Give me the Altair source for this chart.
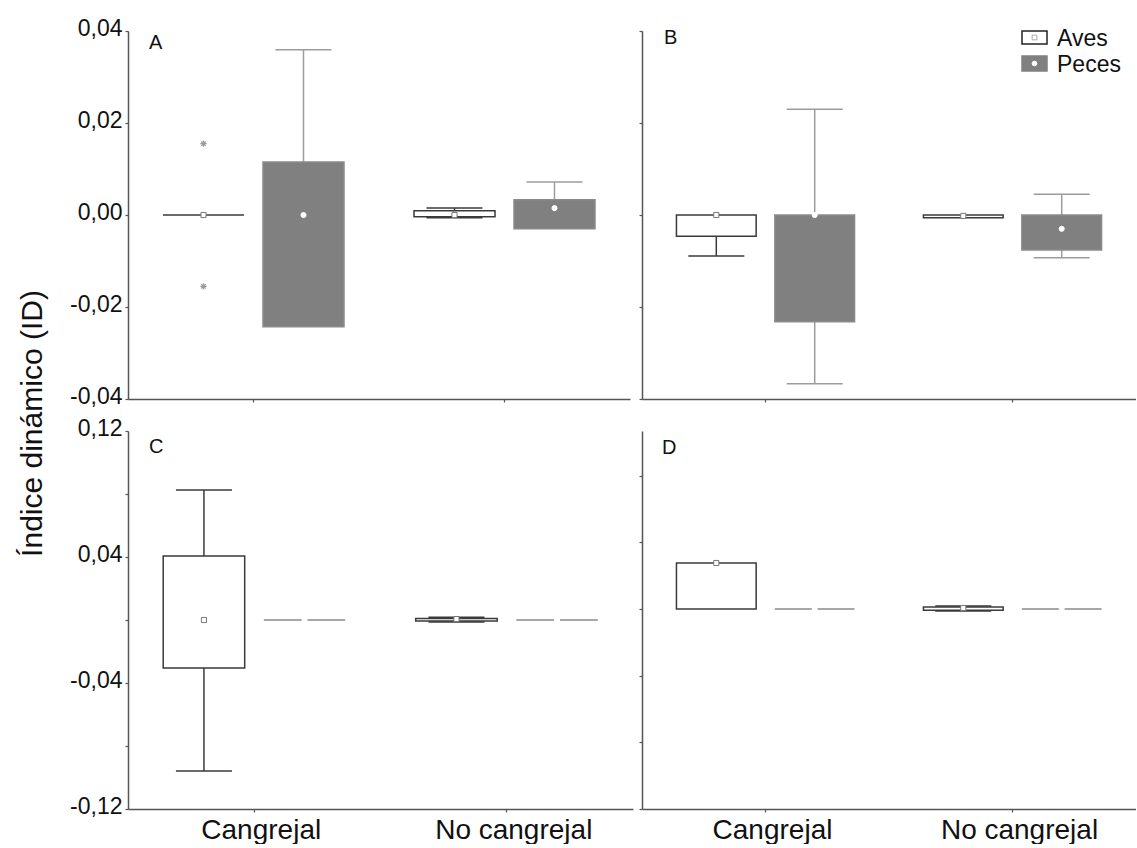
import altair as alt
import pandas as pd

# ---------------- data ----------------
categories = ["Cangrejal", "No cangrejal"]
groups = ["Aves", "Peces"]
# box order: (Cangrejal, Aves), (Cangrejal, Peces), (No cangrejal, Aves), (No cangrejal, Peces)
box_category = ["Cangrejal", "Cangrejal", "No cangrejal", "No cangrejal"]
box_group = ["Aves", "Peces", "Aves", "Peces"]

A_q1 = [0.0, -0.0243, -0.0004, -0.0030]
A_q3 = [0.0, 0.0115, 0.0009, 0.0033]
A_med = [0.0, 0.0, 0.0, 0.0015]
A_lo = [None, None, -0.0006, None]
A_hi = [None, 0.0359, 0.0015, 0.0072]
A_out_category = ["Cangrejal", "Cangrejal"]
A_out_group = ["Aves", "Aves"]
A_out_value = [0.0155, -0.0155]

B_q1 = [-0.0046, -0.0232, -0.0006, -0.0076]
B_q3 = [0.0, 0.0, 0.0, 0.0]
B_med = [0.0, 0.0, -0.0002, -0.0030]
B_lo = [-0.0089, -0.0367, None, -0.0093]
B_hi = [None, 0.0230, None, 0.0045]

C_q1 = [-0.0305, 0.0, -0.0006, 0.0]
C_q3 = [0.0406, 0.0, 0.0010, 0.0]
C_med = [0.0, 0.0, 0.0006, 0.0]
C_lo = [-0.0959, None, -0.0013, None]
C_hi = [0.0825, None, 0.0018, None]

D_q1 = [0.0, 0.0, -0.0004, 0.0]
D_q3 = [0.0138, 0.0, 0.0006, 0.0]
D_med = [0.0138, 0.0, 0.0003, 0.0]
D_lo = [None, None, -0.0006, None]
D_hi = [None, None, 0.0009, None]

ticks_top = [-0.04, -0.02, 0.0, 0.02, 0.04]
ticks_C = [-0.12, -0.08, -0.04, 0.0, 0.04, 0.08, 0.12]
ticks_D = [-0.06, -0.04, -0.02, 0.0, 0.02, 0.04]

legend_labels = ["Aves", "Peces"]
y_title = "Índice dinámico (ID)"

# ---------------- styles ----------------
FONT = "Liberation Sans"
FILL = {"Aves": "#ffffff", "Peces": "#808080"}
BOX_STROKE = {"Aves": "#3a3a3a", "Peces": "#8a8a8a"}
WHISKER = {"Aves": "#3a3a3a", "Peces": "#9c9c9c"}
MSHAPE = {"Aves": "square", "Peces": "circle"}
MSTROKE = {"Aves": "#777777", "Peces": "#ffffff"}
AXIS_COL = "#555555"

COMMA = "replace(replace(format(datum.value, '.2f'), '.', ','), '\u2212', '-')"
LABEL_C = "(abs(datum.value) < 0.001 || abs(abs(datum.value) - 0.08) < 0.001) ? '' : " + COMMA


def make_panel(letter, q1, q3, med, lo, hi, ydomain, yticks, width, height,
               show_ylabels, show_xlabels, label_expr=COMMA, title_axis=False,
               letter_pos=(22, 18), outliers=None, legend=False):
    boxes = pd.DataFrame({"category": box_category, "group": box_group,
                          "q1": q1, "q3": q3, "med": med})
    boxes["fill"] = boxes["group"].map(FILL)
    boxes["stroke"] = boxes["group"].map(BOX_STROKE)
    boxes["shape"] = boxes["group"].map(MSHAPE)
    boxes["mstroke"] = boxes["group"].map(MSTROKE)
    boxes["mfill"] = "#ffffff"

    rows = []
    for i in range(4):
        if hi[i] is not None:
            rows.append({"category": box_category[i], "group": box_group[i], "a": q3[i], "b": hi[i]})
        if lo[i] is not None:
            rows.append({"category": box_category[i], "group": box_group[i], "a": q1[i], "b": lo[i]})
    whisk = pd.DataFrame(rows, columns=["category", "group", "a", "b"])
    whisk["wcol"] = whisk["group"].map(WHISKER)

    xaxis = alt.Axis(labels=show_xlabels, ticks=True, tickSize=3, domain=True,
                     labelFontSize=28, labelPadding=4, labelAngle=0, labelOffset=7,
                     labelBaseline="top", labelColor="#111111", title=None)
    yargs = dict(values=yticks, labels=show_ylabels, labelExpr=label_expr,
                 tickSize=3, labelPadding=3, labelOffset=-3, grid=False,
                 labelFontSize=23, labelColor="#111111")
    if title_axis:
        yargs.update(title=y_title, titleX=-87, titleY=392, titleAngle=270,
                     titleBaseline="alphabetic", titleAlign="center",
                     titleFontSize=30, titleFontWeight="normal", titleColor="#111111")
    else:
        yargs.update(title=None)
    yaxis = alt.Axis(**yargs)
    yscale = alt.Scale(domain=ydomain, nice=False, zero=False)

    def X():
        return alt.X("category:N", scale=alt.Scale(domain=categories, paddingInner=0, paddingOuter=0),
                     axis=xaxis)

    def XO():
        return alt.XOffset("group:N", scale=alt.Scale(domain=groups, paddingInner=0.19, paddingOuter=0.35))

    def Y(f):
        return alt.Y(f + ":Q", scale=yscale, axis=yaxis)

    layers = []
    layers.append(alt.Chart(whisk).mark_rule(strokeWidth=1.5).encode(
        x=X(), xOffset=XO(), y=Y("a"), y2="b:Q", stroke=alt.Stroke("wcol:N", scale=None)))
    layers.append(alt.Chart(boxes).mark_bar(strokeWidth=1.5).encode(
        x=X(), xOffset=XO(), y=Y("q1"), y2="q3:Q",
        fill=alt.Fill("fill:N", scale=None), stroke=alt.Stroke("stroke:N", scale=None)))
    layers.append(alt.Chart(whisk).mark_tick(thickness=1.5, size=56, opacity=1).encode(
        x=X(), xOffset=XO(), y=Y("b"), color=alt.Color("wcol:N", scale=None)))
    layers.append(alt.Chart(boxes).mark_point(filled=True, opacity=1, size=26, strokeWidth=1).encode(
        x=X(), xOffset=XO(), y=Y("med"), shape=alt.Shape("shape:N", scale=None),
        fill=alt.Fill("mfill:N", scale=None), stroke=alt.Stroke("mstroke:N", scale=None)))
    if outliers is not None:
        out = pd.DataFrame({"category": outliers[0], "group": outliers[1], "v": outliers[2]})
        layers.append(alt.Chart(out).mark_point(
            shape="M-1,0L1,0M0,-1L0,1M-0.7,-0.7L0.7,0.7M-0.7,0.7L0.7,-0.7",
            size=40, stroke="#9a9a9a", strokeWidth=1.2, opacity=1).encode(
            x=X(), xOffset=XO(), y=Y("v")))
    layers.append(alt.Chart(pd.DataFrame({"t": [letter]})).mark_text(
        align="left", baseline="alphabetic", fontSize=20, font=FONT, color="#111111").encode(
        text="t:N", x=alt.value(letter_pos[0]), y=alt.value(letter_pos[1])))
    if legend:
        lg = [("Aves", 0, 13, 6.5, "square", "#aaaaaa"), ("Peces", 25, 40, 32.5, "circle", "#ffffff")]
        for lab, y0, y1, yc, shp, mst in lg:
            d = pd.DataFrame({"t": [lab]})
            layers.append(alt.Chart(d).mark_rect(
                fill=FILL[lab], stroke="#222222" if lab == "Aves" else FILL[lab], strokeWidth=1.5).encode(
                x=alt.value(380), x2=alt.value(405), y=alt.value(y0), y2=alt.value(y1)))
            layers.append(alt.Chart(d).mark_point(
                shape=shp, filled=True, fill="#ffffff", stroke=mst, strokeWidth=1, size=22, opacity=1).encode(
                x=alt.value(392.5), y=alt.value(yc)))
            layers.append(alt.Chart(d).mark_text(
                align="left", baseline="middle", fontSize=23, font=FONT, color="#111111").encode(
                text="t:N", x=alt.value(415), y=alt.value(yc + 1)))
    return alt.layer(*layers).properties(width=width, height=height)


pA = make_panel("A", A_q1, A_q3, A_med, A_lo, A_hi, [-0.04, 0.04], ticks_top, 502, 368,
                True, False, title_axis=True, letter_pos=(21, 18),
                outliers=(A_out_category, A_out_group, A_out_value))
pB = make_panel("B", B_q1, B_q3, B_med, B_lo, B_hi, [-0.04, 0.04], ticks_top, 494, 368,
                False, False, letter_pos=(22, 13), legend=True)
pC = make_panel("C", C_q1, C_q3, C_med, C_lo, C_hi, [-0.12, 0.12], ticks_C, 505, 378,
                True, True, label_expr=LABEL_C, letter_pos=(21, 22))
pD = make_panel("D", D_q1, D_q3, D_med, D_lo, D_hi, [-0.06, 0.0534], ticks_D, 494, 378,
                False, True, letter_pos=(20, 23))

res = dict(x="independent", y="independent", xOffset="independent")
chart = alt.concat(pA, pB, pC, pD, columns=2, spacing={"row": 32, "column": 9},
                   bounds="flush", align="none").resolve_scale(**res).properties(
    padding={"left": 17, "top": 17, "right": 0, "bottom": 0}
).configure(font=FONT, background="white").configure_view(strokeWidth=0).configure_axis(
    domainColor=AXIS_COL, domainWidth=1.5, tickColor=AXIS_COL, tickWidth=1.2
)

chart.save("out.html", embed_options={"renderer": "svg", "actions": False})
